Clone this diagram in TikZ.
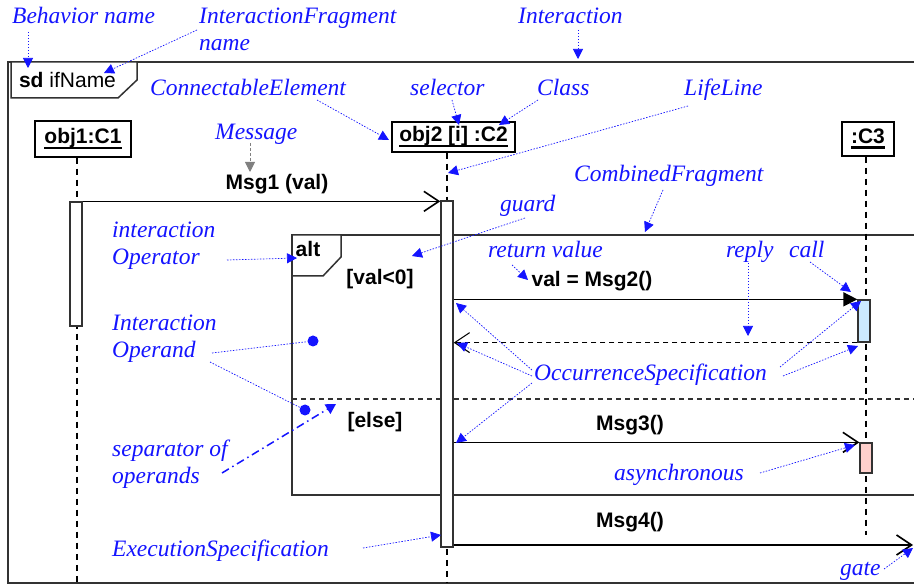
\documentclass[tikz,border=0pt]{standalone}
\usepackage{fontspec}
\setmainfont{Liberation Serif}
\setsansfont{Liberation Sans}
\usetikzlibrary{arrows.meta}
\definecolor{annblue}{RGB}{20,20,255}
\definecolor{framegray}{RGB}{50,50,50}
\definecolor{actblue}{RGB}{204,234,255}
\definecolor{actpink}{RGB}{255,208,204}
\newcommand\annfont{\rmfamily\itshape\fontsize{23.5}{27.5}\selectfont}
\newcommand\lblfont{\sffamily\bfseries\fontsize{21}{25}\selectfont}
\newsavebox\objulbox
\newcommand\objul[1]{\sbox\objulbox{#1}\rlap{\rule[-5.5pt]{\wd\objulbox}{2.6pt}}\usebox\objulbox}
\begin{document}
\begin{tikzpicture}[x=1pt,y=-1pt,
  ann/.style={font=\annfont, text=annblue, inner sep=0pt, anchor=base west, align=left},
  lbl/.style={font=\lblfont, inner sep=0pt, anchor=base},
  frameline/.style={draw=framegray, line width=1.5pt},
  objbox/.style={draw=black, line width=1.5pt, fill=white, inner sep=0pt, font=\lblfont},
  act/.style={draw=framegray, line width=1.3pt, fill=white, inner sep=0pt, minimum width=12pt},
  lifeline/.style={draw=black, line width=1.5pt, dash pattern=on 6pt off 5pt},
  msg/.style={draw=black, line width=1.6pt, -{Straight Barb[length=15pt,width=20pt,line width=1.6pt]}},
  sync/.style={draw=black, line width=1.6pt, -{Triangle[length=14pt,width=14pt]}},
  replymsg/.style={draw=black, line width=1.1pt, dash pattern=on 5pt off 4pt, -{Straight Barb[length=15pt,width=20pt,line width=1.1pt]}},
  note/.style={draw=annblue, line width=0.7pt, dash pattern=on 1.5pt off 1.5pt, -{Triangle[length=10pt,width=10pt]}},
  plainnote/.style={draw=annblue, line width=0.7pt, dash pattern=on 1.5pt off 1.5pt},
  graynote/.style={draw=gray, line width=0.9pt, dash pattern=on 3pt off 2pt, -{Triangle[length=10pt,width=10pt]}},
  sepnote/.style={draw=annblue, line width=1.5pt, dash pattern=on 8pt off 4pt on 1.5pt off 4pt, -{Triangle[length=10pt,width=11pt]}},
  dot/.style={circle, fill=annblue, inner sep=0pt, minimum size=11pt}]
\useasboundingbox (0,0) rectangle (914,585);
\fill[white] (0,0) rectangle (914,585);

% outer interaction frame and its tab
\draw[frameline] (914,62) -- (8,62) -- (8,583) -- (914,583);
\draw[frameline, fill=white] (11,62) -- (137,62) -- (137,80) -- (118,98) -- (11,98) -- cycle;
\node[lbl] (sdname) at (67.5,88) {sd \mdseries ifName};

% combined fragment
\draw[frameline] (914,235) -- (292,235) -- (292,495) -- (914,495);
\draw[framegray, line width=1.2pt, dash pattern=on 5pt off 4pt] (292,399) -- (914,399);
\draw[frameline, fill=white] (292,235) -- (341,235) -- (341,257) -- (323,276) -- (292,276) -- cycle;
\node[lbl] (altl) at (308,257) {alt};
\node[lbl] (guard1) at (380,285) {[val<0]};
\node[lbl] (guard2) at (375,428) {[else]};

% lifelines
\node[objbox, minimum width=96pt, minimum height=36pt] (o1) at (83,139) {\objul{obj1:C1}};
\node[objbox, minimum width=123pt, minimum height=30pt] (o2) at (453.5,137) {\objul{obj2 [i] :C2}};
\node[objbox, minimum width=52pt, minimum height=34pt] (o3) at (868,139) {\objul{:C3}};
\coordinate (l1end) at (77,583);
\coordinate (l2end) at (447,583);
\coordinate (l3end) at (866,535);
\draw[lifeline] (o1.south -| l1end) -- (l1end);
\draw[lifeline] (o2.south -| l2end) -- (l2end);
\draw[lifeline] (o3.south -| l3end) -- (l3end);

% execution specifications
\node[act, minimum height=124pt] (a1) at (76,264) {};
\node[act, minimum height=346pt] (a2) at (447,374) {};
\node[act, minimum height=42pt, fill=actblue] (a3) at (864,321) {};
\node[act, minimum height=30pt, fill=actpink] (a4) at (866,458) {};

% messages
\draw[msg] (a1.north east) -- (a1.north east -| a2.west);
\node[lbl] (m1) at (277,190) {Msg1 (val)};
\draw[sync] (a2.east |- a3.north) -- (a3.north west);
\node[lbl] (m2) at (592,287) {val = Msg2()};
\draw[replymsg] (a3.south west) -- (a3.south west -| a2.east);
\draw[msg] (a2.east |- a4.north) -- (a4.north west);
\node[lbl] (m3) at (630,431) {Msg3()};
\coordinate (gate) at (913,545);
\draw[msg] (a2.east |- gate) -- (gate);
\node[lbl] (m4) at (630,528) {Msg4()};

% annotation texts (multi-line ones are placed by their last baseline)
\node[ann] (bname) at (12,24) {Behavior name};
\node[ann] (ifname) at (199,51) {InteractionFragment\\name};
\node[ann] (inter) at (518,24) {Interaction};
\node[ann] (connel) at (150,96) {ConnectableElement};
\node[ann] (selector) at (410,96) {selector};
\node[ann] (class) at (537,96) {Class};
\node[ann] (lifel) at (684,96) {LifeLine};
\node[ann] (message) at (215,140) {Message};
\node[ann] (combfrag) at (574,182) {CombinedFragment};
\node[ann] (guardl) at (500,212) {guard};
\node[ann] (iop) at (112,265) {interaction\\Operator};
\node[ann] (retval) at (488,258) {return value};
\node[ann] (replyl) at (726,258) {reply};
\node[ann] (calll) at (789,258) {call};
\node[ann] (ioperand) at (112,358) {Interaction\\Operand};
\node[ann] (occspec) at (534,381) {OccurrenceSpecification};
\node[ann] (sepop) at (112,484) {separator of\\operands};
\node[ann] (async) at (614,481) {asynchronous};
\node[ann] (execspec) at (112,556) {ExecutionSpecification};
\node[ann] (gatel) at (840,575) {gate};

% annotation pointers
\path coordinate (n1s) at (28,32) coordinate (n1e) at (28,68)
      coordinate (n2s) at (197,30) coordinate (n2e) at (104,73)
      coordinate (n3s) at (578,30) coordinate (n3e) at (578,59)
      coordinate (n4s) at (317,100) coordinate (n4e) at (389,140)
      coordinate (n5s) at (452,100) coordinate (n5e) at (459,125)
      coordinate (n6s) at (538,100) coordinate (n6e) at (499,125)
      coordinate (n7s) at (688,106) coordinate (n7e) at (448,173)
      coordinate (n8s) at (250,143) coordinate (n8e) at (250,172)
      coordinate (n9s) at (663,190) coordinate (n9e) at (645,232)
      coordinate (n10s) at (525,218) coordinate (n10e) at (412,256)
      coordinate (n11s) at (227,260) coordinate (n11e) at (297,258)
      coordinate (n12s) at (512,265) coordinate (n12e) at (528,280)
      coordinate (n13s) at (748,263) coordinate (n13e) at (748,336)
      coordinate (n14s) at (810,262) coordinate (n14e) at (851,292)
      coordinate (n15s) at (212,353) coordinate (n16s) at (210,362)
      coordinate (n17s) at (222,473) coordinate (n17e) at (336,404)
      coordinate (oc1s) at (532,370) coordinate (oc1e) at (456,303)
      coordinate (oc2s) at (532,376) coordinate (oc2e) at (457,343)
      coordinate (oc3s) at (532,383) coordinate (oc3e) at (456,443)
      coordinate (oc4s) at (780,367) coordinate (oc4e) at (861,301)
      coordinate (oc5s) at (783,376) coordinate (oc5e) at (858,346)
      coordinate (n18s) at (760,473) coordinate (n18e) at (855,445)
      coordinate (n19s) at (363,548) coordinate (n19e) at (441,535)
      coordinate (n20s) at (884,569) coordinate (n20e) at (913,548);
\node[dot] (d1) at (313,341) {};
\node[dot] (d2) at (305,410) {};
\draw[note] (n1s) -- (n1e);
\draw[note] (n2s) -- (n2e);
\draw[note] (n3s) -- (n3e);
\draw[note] (n4s) -- (n4e);
\draw[note] (n5s) -- (n5e);
\draw[note] (n6s) -- (n6e);
\draw[note] (n7s) -- (n7e);
\draw[graynote] (n8s) -- (n8e);
\draw[note] (n9s) -- (n9e);
\draw[note] (n10s) -- (n10e);
\draw[note] (n11s) -- (n11e);
\draw[note] (n12s) -- (n12e);
\draw[note] (n13s) -- (n13e);
\draw[note] (n14s) -- (n14e);
\draw[plainnote] (n15s) -- (d1);
\draw[plainnote] (n16s) -- (d2);
\draw[sepnote] (n17s) -- (n17e);
\draw[note] (oc1s) -- (oc1e);
\draw[note] (oc2s) -- (oc2e);
\draw[note] (oc3s) -- (oc3e);
\draw[note] (oc4s) -- (oc4e);
\draw[note] (oc5s) -- (oc5e);
\draw[note] (n18s) -- (n18e);
\draw[note] (n19s) -- (n19e);
\draw[note] (n20s) -- (n20e);
\end{tikzpicture}
\end{document}
